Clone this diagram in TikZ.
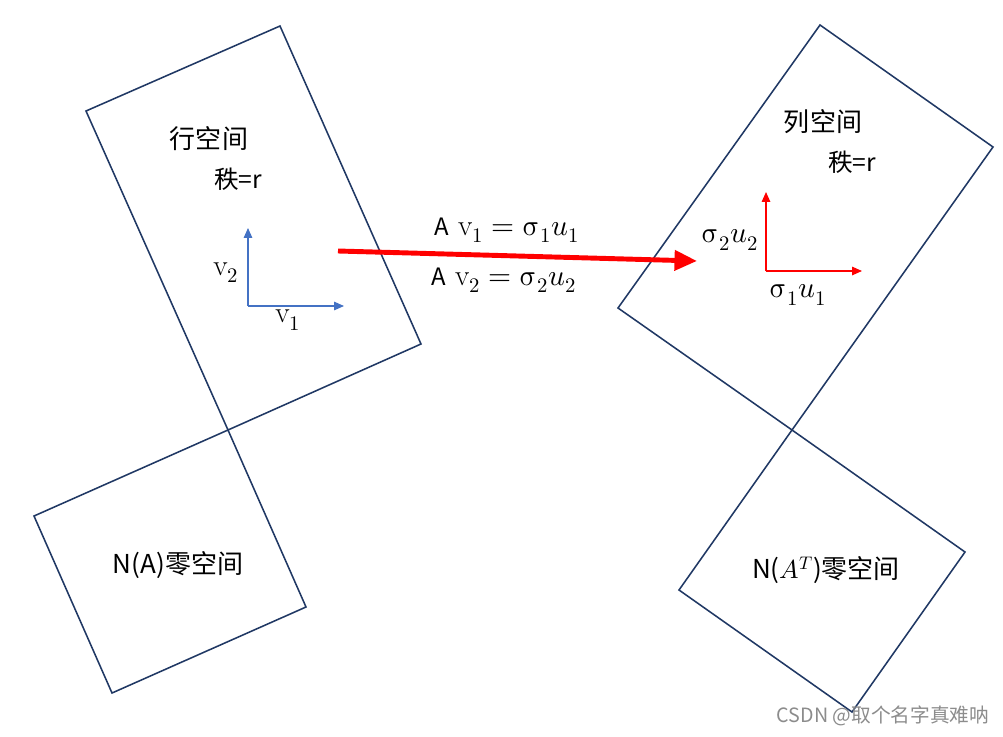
\documentclass[tikz,border=0pt]{standalone}
\usepackage{fontspec}
\usepackage{unicode-math}
\setmathfont{Latin Modern Math}
\newfontfamily\cjk{Noto Sans CJK SC}
\usetikzlibrary{arrows.meta}
\definecolor{spaceline}{HTML}{203864}
\definecolor{axisblue}{HTML}{4472C4}
\definecolor{mapred}{HTML}{FF0000}
\newcommand\opA{{\cjk\fontsize{17}{19}\selectfont A}}
\tikzset{
 space/.style={draw=spaceline, line width=1.1pt, line join=miter},
 title/.style={font=\cjk\fontsize{18.5}{20}\selectfont},
 rank/.style={font=\cjk\fontsize{17.5}{19}\selectfont},
 vec/.style={font=\fontsize{21}{23}\selectfont},
 rowaxis/.style={draw=axisblue, line width=0.9pt, -{Triangle[length=7pt,width=6pt]}},
 colaxis/.style={draw=mapred, line width=0.9pt, -{Triangle[length=7pt,width=6pt]}},
 maparrow/.style={draw=mapred, line width=3.5pt, -{Triangle[length=16pt,width=14pt]}},
}

\begin{document}
\begin{tikzpicture}[x=0.025cm, y=-0.025cm]
    \useasboundingbox (0,0) rectangle (1003,736);
    % row space and null space
    \coordinate (r1) at (86,111);
    \coordinate (r2) at (280,26);
    \coordinate (r3) at (421,344);
    \coordinate (r4) at (228,430);
    \coordinate (n2) at (306,607);
    \coordinate (n3) at (112,693);
    \coordinate (n4) at (34,516);
    \draw [space] (r1) -- (r2) -- (r3) -- (r4) -- cycle;
    \draw [space] (r4) -- (n2) -- (n3) -- (n4) -- cycle;
    % column space and left null space
    \coordinate (c1) at (618,308);
    \coordinate (c2) at (820,25);
    \coordinate (c3) at (993,147);
    \coordinate (c4) at (792,430);
    \coordinate (m2) at (965,552);
    \coordinate (m3) at (852,712);
    \coordinate (m4) at (679,590);
    \draw [space] (c1) -- (c2) -- (c3) -- (c4) -- cycle;
    \draw [space] (c4) -- (m2) -- (m3) -- (m4) -- cycle;
    \node [title] (rowname) at (209,139) {行空间};
    \node [rank] (rowrank) at (238,179) {秩=r};
    \node [title] (colname) at (823,122) {列空间};
    \node [rank] (colrank) at (852,162) {秩=r};
    \node [title] (nullA) at (178,565) {N(A)零空间};
    \node [title] (nullAT) at (826,570) {N($A^{T}$)零空间};
    % basis vectors
    \coordinate (vo) at (248,306);
    \coordinate (vup) at (248,228);
    \coordinate (vright) at (344,306);
    \draw [rowaxis] (vo) -- (vup);
    \draw [rowaxis] (vo) -- (vright);
    \node [vec] (vtwo) at (226,273) {$\mathrm{v}_2$};
    \node [vec] (vone) at (288,320) {$\mathrm{v}_1$};
    \coordinate (uo) at (766,271);
    \coordinate (uup) at (766,192);
    \coordinate (uright) at (862,271);
    \draw [colaxis] (uo) -- (uup);
    \draw [colaxis] (uo) -- (uright);
    \node [vec] (utwo) at (730,240) {$\upsigma_2 u_2$};
    \node [vec] (uone) at (798,295) {$\upsigma_1 u_1$};
    % the map A
    \coordinate (mapstart) at (338,251);
    \coordinate (mapend) at (697,261);
    \draw [maparrow] (mapstart) -- (mapend);
    \node [vec] (eqone) at (507,230) {\opA\ $\mathrm{v}_1 = \upsigma_1 u_1$};
    \node [vec] (eqtwo) at (504,280) {\opA\ $\mathrm{v}_2 = \upsigma_2 u_2$};
    \node [font=\cjk\fontsize{14}{16}\selectfont, text=black!45] (mark) at (883,716) {CSDN @取个名字真难呐};
\end{tikzpicture}
\end{document}
